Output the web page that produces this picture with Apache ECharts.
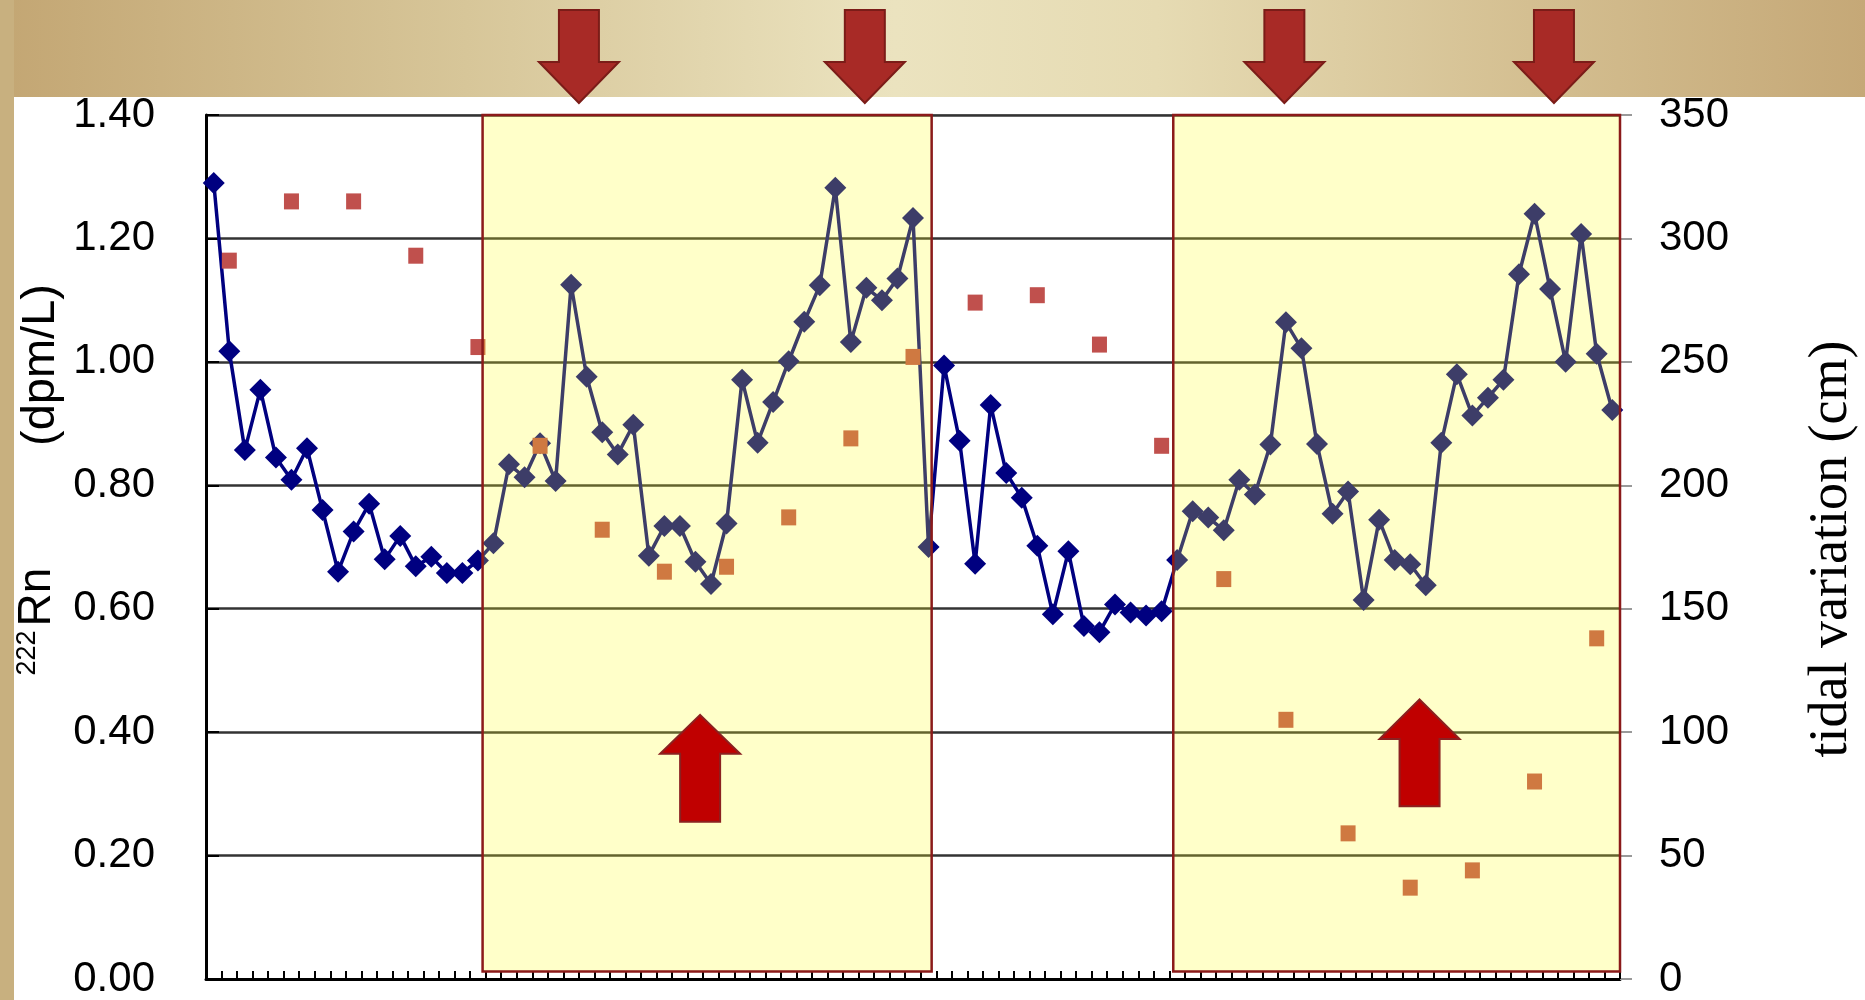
<!DOCTYPE html>
<html>
<head>
<meta charset="utf-8">
<style>
  html, body { margin: 0; padding: 0; background: #ffffff; }
  #main { width: 1865px; height: 1000px; }
</style>
<script src="https://cdn.jsdelivr.net/npm/echarts@6/dist/echarts.min.js"></script>
</head>
<body>
<div id="main"></div>
<script>
// 222Rn concentration at each sampling step (dpm/L)
const rn = [
  1.29, 1.017, 0.857, 0.955, 0.845, 0.809, 0.86, 0.76, 0.66, 0.725, 0.77, 0.68, 0.718, 0.669, 0.684, 0.658, 0.658, 0.678,
  0.706, 0.834, 0.813, 0.868, 0.807, 1.125, 0.976, 0.886, 0.85, 0.898, 0.686, 0.734, 0.734, 0.676, 0.64, 0.738, 0.971,
  0.869, 0.935, 1.001, 1.065, 1.124, 1.282, 1.032, 1.12, 1.1, 1.135, 1.233, 0.7,
  0.994, 0.872, 0.673, 0.93, 0.82, 0.78, 0.702, 0.591, 0.693, 0.572, 0.562, 0.607, 0.594, 0.589, 0.596,
  0.679, 0.758, 0.748, 0.727, 0.809, 0.785, 0.866, 1.064, 1.022, 0.867, 0.754, 0.79, 0.614, 0.744, 0.679, 0.672, 0.638,
  0.869, 0.98, 0.913, 0.942, 0.971, 1.142, 1.24, 1.118, 1.0, 1.207, 1.013, 0.922
];

// sampling steps (0-based) at which the tide level was read
const tideStep = [1, 5, 9, 13, 17, 21, 25, 29, 33, 37, 41, 45, 49, 53, 57, 61, 65, 69, 73, 77, 81, 85, 89];
// tidal variation at those steps (cm)
const tide = [291, 315, 315, 293, 256, 216, 182, 165, 167, 187, 219, 252, 274, 277, 257, 216, 162, 105, 59, 37, 44, 80, 138];

// highlighted periods, in sampling-step units
const periodStart = [17.8, 62.25];
const periodEnd = [46.7, 91];

// arrow annotations, in sampling-step / Rn units
const downArrowX = [24.0, 42.4, 69.4, 86.75];
const upArrowX = [31.8, 78.1];
const upArrowTip = [0.428, 0.453];
const upArrowHead = [0.365, 0.389];
const upArrowTail = [0.255, 0.28];

const stepCount = rn.length;

const chart = echarts.init(document.getElementById('main'), null, { renderer: 'canvas' });

const labelFont = '"Liberation Sans", Arial, sans-serif';

chart.setOption({
  animation: false,
  backgroundColor: '#ffffff',
  grid: {
    left: 206, right: 245, top: 115, bottom: 20,
    show: true, backgroundColor: '#ffffff',
    borderColor: '#a8a8a8', borderWidth: 2
  },
  xAxis: {
    type: 'value', min: 0, max: stepCount, interval: 1,
    axisLine: { show: true, onZero: false, lineStyle: { color: '#000', width: 3 } },
    axisTick: { show: true, inside: true, length: 8, lineStyle: { color: '#000', width: 2 } },
    axisLabel: { show: false },
    splitLine: { show: false }
  },
  yAxis: [
    {
      type: 'value', min: 0, max: 1.4, interval: 0.2,
      axisLine: { show: true, lineStyle: { color: '#000', width: 3 } },
      axisTick: { show: true, inside: true, length: 13, lineStyle: { color: '#000', width: 2 } },
      axisLabel: {
        formatter: v => v.toFixed(2), fontSize: 42, color: '#000',
        fontFamily: labelFont, margin: 51
      },
      splitLine: { show: true, lineStyle: { color: '#333333', width: 2.5 } }
    },
    {
      type: 'value', position: 'right', min: 0, max: 350, interval: 50,
      axisLine: { show: false },
      axisTick: { show: true, length: 12, lineStyle: { color: '#999', width: 2 } },
      axisLabel: { fontSize: 42, color: '#000', fontFamily: labelFont, margin: 39 },
      splitLine: { show: false }
    }
  ],
  series: [
    {
      name: '222Rn',
      type: 'line',
      z: 3,
      data: rn.map((v, i) => [i + 0.5, v]),
      symbol: 'diamond',
      symbolSize: 22,
      lineStyle: { color: '#000080', width: 3.5 },
      itemStyle: { color: '#000080', opacity: 1 }
    },
    {
      name: 'tidal variation',
      type: 'scatter',
      yAxisIndex: 1,
      z: 3,
      data: tideStep.map((s, k) => [s + 0.5, tide[k]]),
      symbol: 'rect',
      symbolSize: [15, 16],
      itemStyle: { color: '#c0504d', opacity: 1 }
    },
    {
      // translucent highlight boxes laid over the measurements
      name: 'periods',
      type: 'line',
      z: 10,
      data: [],
      markArea: {
        z: 10,
        silent: true,
        itemStyle: { color: 'rgba(255,255,30,0.24)', borderColor: '#8b1a1a', borderWidth: 2.5 },
        data: periodStart.map((s, k) => [
          { xAxis: s, yAxis: 0.012 },
          { xAxis: periodEnd[k], yAxis: 1.4 }
        ])
      }
    }
  ]
});

const toPx = (x, y) => chart.convertToPixel({ xAxisIndex: 0, yAxisIndex: 0 }, [x, y]);

function downArrow(cx) {
  const top = 10, head = 62, tip = 103, shaft = 20, wing = 40;
  return {
    type: 'polygon', z: 100,
    shape: { points: [[cx - shaft, top], [cx + shaft, top], [cx + shaft, head], [cx + wing, head],
                      [cx, tip], [cx - wing, head], [cx - shaft, head]] },
    style: { fill: '#a82a26', stroke: '#7b1c18', lineWidth: 2 }
  };
}

function upArrow(k) {
  const cx = toPx(upArrowX[k], 0)[0];
  const tip = toPx(0, upArrowTip[k])[1];
  const head = toPx(0, upArrowHead[k])[1];
  const tail = toPx(0, upArrowTail[k])[1];
  const shaft = 20, wing = 40;
  return {
    type: 'polygon', z: 100,
    shape: { points: [[cx, tip], [cx + wing, head], [cx + shaft, head], [cx + shaft, tail],
                      [cx - shaft, tail], [cx - shaft, head], [cx - wing, head]] },
    style: { fill: '#c00000', stroke: '#8b2020', lineWidth: 2 }
  };
}

const banner = {
  type: 'rect', z: 50,
  shape: { x: 0, y: 0, width: 1865, height: 97 },
  style: {
    fill: new echarts.graphic.LinearGradient(0, 0, 1, 0, [
      { offset: 0, color: '#c3a673' },
      { offset: 0.25, color: '#d7c699' },
      { offset: 0.48, color: '#ebe3bf' },
      { offset: 0.62, color: '#e6dbb3' },
      { offset: 0.82, color: '#d4bf91' },
      { offset: 1, color: '#c5a877' }
    ])
  }
};

const sideStrip = {
  type: 'rect', z: 50,
  shape: { x: 0, y: 0, width: 14, height: 1000 },
  style: { fill: '#c8b07f' }
};

const titles = [
  {
    type: 'text', z: 60, x: 41, y: 365, rotation: Math.PI / 2,
    style: { text: '(dpm/L)', fontSize: 47, fontFamily: labelFont, fill: '#000', align: 'center', verticalAlign: 'middle' }
  },
  {
    type: 'text', z: 60, x: 37, y: 597, rotation: Math.PI / 2,
    style: { text: 'Rn', fontSize: 46, fontFamily: labelFont, fill: '#000', align: 'center', verticalAlign: 'middle' }
  },
  {
    type: 'text', z: 60, x: 28, y: 653, rotation: Math.PI / 2,
    style: { text: '222', fontSize: 27, fontFamily: labelFont, fill: '#000', align: 'center', verticalAlign: 'middle' }
  },
  {
    type: 'text', z: 60, x: 1832, y: 549, rotation: Math.PI / 2,
    style: { text: 'tidal variation (cm)', fontSize: 54, fontFamily: '"Liberation Serif", "Times New Roman", serif',
             fill: '#000', align: 'center', verticalAlign: 'middle' }
  }
];

chart.setOption({
  graphic: [banner, sideStrip]
    .concat(downArrowX.map(x => downArrow(toPx(x, 0)[0])))
    .concat(upArrowX.map((x, k) => upArrow(k)))
    .concat(titles)
});
</script>
</body>
</html>
